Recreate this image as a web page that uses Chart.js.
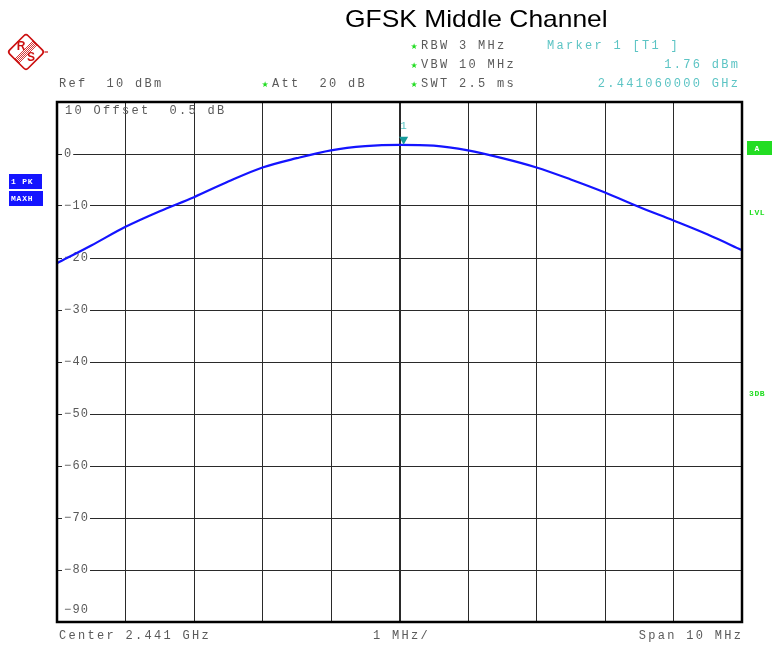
<!DOCTYPE html>
<html>
<head>
<meta charset="utf-8">
<title>GFSK Middle Channel</title>
<style>
  html, body { margin: 0; padding: 0; background: #ffffff; }
  #wrap { width: 774px; height: 648px; position: relative; }
</style>
<script src="https://cdn.jsdelivr.net/npm/chart.js@4/dist/chart.umd.min.js"></script>
</head>
<body>
<div id="wrap"><canvas id="c" width="774" height="648"></canvas></div>
<script>
// Frequency offset from the 2.441 GHz centre, in MHz
const offsetsMHz = [-5, -4.5, -4, -3.5, -3, -2.5, -2, -1.5, -1, -0.5, 0, 0.5, 1, 1.5, 2, 2.5, 3, 3.5, 4, 4.5, 5];
// Max-hold trace level, dBm
const levelsDbm = [-21.0, -17.6, -14.0, -11.0, -8.3, -5.3, -2.6, -0.8, 0.7, 1.5, 1.75, 1.6, 0.7, -0.8, -2.6, -4.9, -7.4, -10.2, -12.8, -15.5, -18.5];
// Level grid labels drawn inside the plot
const levelTicks = [0, -10, -20, -30, -40, -50, -60, -70, -80];
// Marker 1
const markerOffsetMHz = 0.06;
const markerLevelDbm = 1.76;
const markerFreqText = '2.441060000 GHz';
// Display settings
const refLevelDbm = 10;
const bottomLevelDbm = -90;
const spanMHz = [-5, 5];

const MONO = '"Liberation Mono", "DejaVu Sans Mono", monospace';
const GRAY = '#5a5a5a';
const TEAL = '#5cc4c4';
const GREEN = '#22dd22';

function txt(ctx, s, x, y, opts) {
  const o = Object.assign({color: GRAY, size: 12, spacing: 2.3, align: 'left', weight: 'normal', family: MONO}, opts || {});
  ctx.save();
  ctx.font = o.weight + ' ' + o.size + 'px ' + o.family;
  ctx.letterSpacing = o.spacing + 'px';
  ctx.fillStyle = o.color;
  ctx.textBaseline = 'middle';
  let w = ctx.measureText(s).width - o.spacing;
  let left = x;
  if (o.align === 'right') left = x - w;
  else if (o.align === 'center') left = x - w / 2;
  ctx.textAlign = 'left';
  if (o.bg) {
    ctx.fillStyle = o.bg;
    ctx.fillRect(left - 2, y - 6, w + 4, 12);
    ctx.fillStyle = o.color;
  }
  ctx.fillText(s, left, y);
  ctx.restore();
  return w;
}

function star(ctx, x, y) {
  ctx.save();
  ctx.font = '8px "DejaVu Sans"';
  ctx.fillStyle = GREEN;
  ctx.textAlign = 'center';
  ctx.textBaseline = 'middle';
  ctx.fillText('\u2605', x, y + 1);
  ctx.restore();
}

function logo(ctx, cx, cy) {
  ctx.save();
  ctx.translate(cx, cy);
  ctx.strokeStyle = '#cc1111';
  ctx.fillStyle = '#cc1111';
  ctx.lineWidth = 1.7;
  ctx.save();
  ctx.rotate(Math.PI / 4);
  const h = 13;
  ctx.beginPath();
  ctx.roundRect(-h, -h, 2 * h, 2 * h, 3);
  ctx.stroke();
  // band of thin stripes separating the two letters
  ctx.lineWidth = 0.8;
  for (let k = -2; k <= 2; k++) {
    ctx.beginPath();
    ctx.moveTo(k * 1.4, -h);
    ctx.lineTo(k * 1.4, h);
    ctx.stroke();
  }
  ctx.restore();
  ctx.lineWidth = 1.2;
  ctx.beginPath();
  ctx.moveTo(18.5, 0);
  ctx.lineTo(22, 0);
  ctx.stroke();
  ctx.font = 'bold 12px "Liberation Sans", Arial, sans-serif';
  ctx.textAlign = 'center';
  ctx.textBaseline = 'middle';
  ctx.fillText('R', -5, -5);
  ctx.fillText('S', 5, 6);
  ctx.restore();
}

function boxLabel(ctx, s, x, y, w, h, bg) {
  ctx.save();
  ctx.fillStyle = bg;
  ctx.fillRect(x, y, w, h);
  ctx.font = 'bold 8px ' + MONO;
  ctx.letterSpacing = '0.8px';
  ctx.fillStyle = '#ffffff';
  ctx.textBaseline = 'middle';
  ctx.textAlign = 'left';
  ctx.fillText(s, x + 2, y + h / 2 + 0.5);
  ctx.restore();
}

const levelLabels = {
  id: 'levelLabels',
  beforeDatasetsDraw(chart) {
    const ctx = chart.ctx;
    const y = chart.scales.y;
    levelTicks.forEach(v => {
      const py = y.getPixelForValue(v);
      txt(ctx, String(v).replace('-', '\u2212'), 64, py, {spacing: 1.2, bg: '#ffffff'});
    });
    const a = chart.chartArea;
    txt(ctx, String(refLevelDbm) + ' Offset  0.5 dB', 65, a.top + 9);
    txt(ctx, String(bottomLevelDbm).replace('-', '\u2212'), 64, a.bottom - 12, {spacing: 1.2});
  }
};

const frameAndMarker = {
  id: 'frameAndMarker',
  afterDatasetsDraw(chart) {
    const ctx = chart.ctx;
    const a = chart.chartArea;
    const mx = chart.scales.x.getPixelForValue(markerOffsetMHz);
    const my = chart.scales.y.getPixelForValue(markerLevelDbm);
    ctx.save();
    ctx.fillStyle = '#169c9c';
    ctx.beginPath();
    ctx.moveTo(mx - 4.5, my - 8);
    ctx.lineTo(mx + 4.5, my - 8);
    ctx.lineTo(mx, my);
    ctx.closePath();
    ctx.fill();
    ctx.restore();
    txt(ctx, '1', mx, my - 19, {color: TEAL, size: 11, spacing: 0, align: 'center'});
    ctx.save();
    ctx.strokeStyle = '#000000';
    ctx.lineWidth = 2.5;
    ctx.strokeRect(a.left, a.top, a.right - a.left, a.bottom - a.top);
    ctx.restore();
  },
  afterDraw(chart) {
    const ctx = chart.ctx;
    // title
    ctx.save();
    ctx.translate(345, 20);
    ctx.scale(1.1, 1);
    ctx.font = '24px "Liberation Sans", Arial, sans-serif';
    ctx.fillStyle = '#000000';
    ctx.textBaseline = 'middle';
    ctx.fillText('GFSK Middle Channel', 0, 0);
    ctx.restore();

    logo(ctx, 26, 52);

    // settings block
    star(ctx, 414, 46);
    txt(ctx, 'RBW 3 MHz', 421, 46);
    star(ctx, 414, 65);
    txt(ctx, 'VBW 10 MHz', 421, 65);
    star(ctx, 414, 84);
    txt(ctx, 'SWT 2.5 ms', 421, 84);
    txt(ctx, 'Ref  10 dBm', 59, 84);
    star(ctx, 265, 84);
    txt(ctx, 'Att  20 dB', 272, 84);

    // marker readout
    txt(ctx, 'Marker 1 [T1 ]', 547, 46, {color: TEAL});
    txt(ctx, markerLevelDbm.toFixed(2) + ' dBm', 738, 65, {color: TEAL, align: 'right'});
    txt(ctx, markerFreqText, 738, 84, {color: TEAL, align: 'right'});

    // trace / status labels
    boxLabel(ctx, '1 PK', 9, 174, 33, 15, '#1414ff');
    boxLabel(ctx, 'MAXH', 9, 191, 34, 15, '#1414ff');
    boxLabel(ctx, ' A', 747, 141, 25, 14, GREEN);
    txt(ctx, 'LVL', 749, 213, {color: GREEN, size: 8, spacing: 0.6, weight: 'bold'});
    txt(ctx, '3DB', 749, 394, {color: GREEN, size: 8, spacing: 0.6, weight: 'bold'});

    // frequency axis annotations
    txt(ctx, 'Center 2.441 GHz', 59, 636);
    txt(ctx, '1 MHz/', 373, 636);
    txt(ctx, 'Span 10 MHz', 741, 636, {align: 'right'});
  }
};

new Chart(document.getElementById('c').getContext('2d'), {
  type: 'line',
  data: {
    datasets: [{
      data: offsetsMHz.map((x, i) => ({x: x, y: levelsDbm[i]})),
      borderColor: '#1414ff',
      borderWidth: 2.2,
      pointRadius: 0,
      cubicInterpolationMode: 'monotone',
      fill: false
    }]
  },
  options: {
    responsive: false,
    animation: false,
    devicePixelRatio: 1,
    layout: {padding: {left: 57, top: 102, right: 32, bottom: 26}},
    plugins: {legend: {display: false}, tooltip: {enabled: false}},
    scales: {
      x: {
        type: 'linear', min: spanMHz[0], max: spanMHz[1],
        ticks: {display: false, stepSize: 1},
        grid: {color: '#2a2a2a', lineWidth: c => (c.tick && c.tick.value === 0 ? 2 : 1), drawTicks: false},
        border: {display: false}
      },
      y: {
        type: 'linear', min: bottomLevelDbm, max: refLevelDbm,
        ticks: {display: false, stepSize: 10},
        grid: {color: '#2a2a2a', lineWidth: 1, drawTicks: false},
        border: {display: false}
      }
    }
  },
  plugins: [levelLabels, frameAndMarker]
});
</script>
</body>
</html>
